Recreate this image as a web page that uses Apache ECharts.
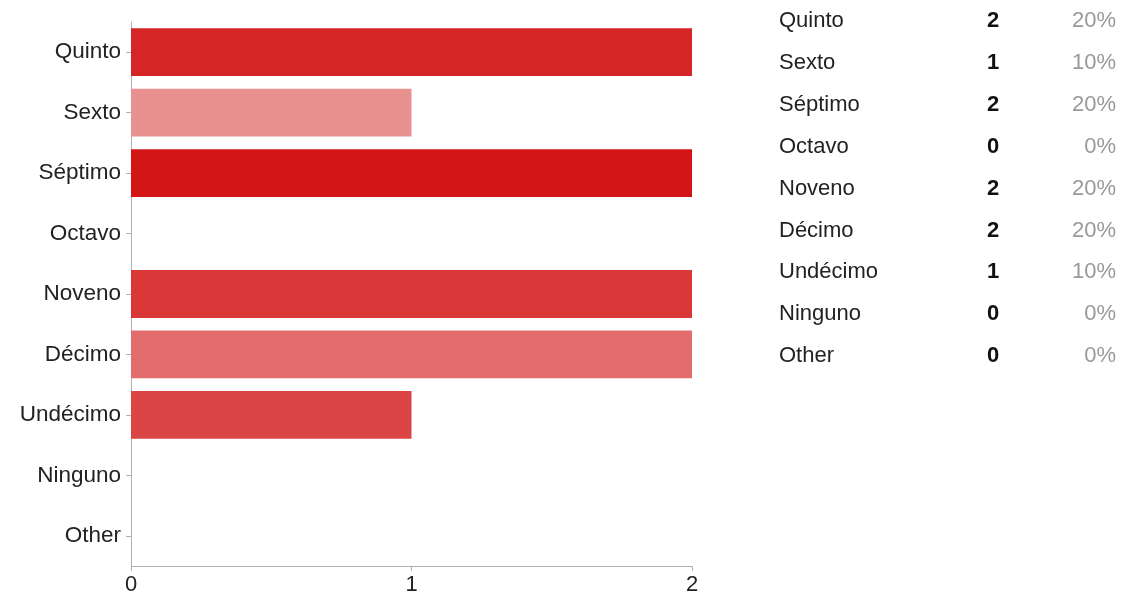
<!DOCTYPE html>
<html>
<head>
<meta charset="utf-8">
<script src="https://cdn.jsdelivr.net/npm/echarts@6/dist/echarts.min.js"></script>
<style>
  html, body { margin: 0; padding: 0; background: #fff; }
  #chart { width: 1129px; height: 597px; }
</style>
</head>
<body>
<div id="chart"></div>
<script>
const categories = ['Quinto', 'Sexto', 'Séptimo', 'Octavo', 'Noveno', 'Décimo', 'Undécimo', 'Ninguno', 'Other'];
const counts = [2, 1, 2, 0, 2, 2, 1, 0, 0];
const barColors = ['#d52527', '#e99191', '#d31515', '#d9d9d9', '#d93738', '#e36d6d', '#dc4546', '#d9d9d9', '#d9d9d9'];
const xTicks = [0, 1, 2];

const FONT = '"Liberation Sans", Arial, sans-serif';
const total = counts.reduce((a, b) => a + b, 0);

const myChart = echarts.init(document.getElementById('chart'));

// summary table on the right
const rowTop = 21, rowGap = 41.9;
const tableItems = [];
categories.forEach((name, i) => {
  const y = rowTop + i * rowGap;
  tableItems.push({
    type: 'text', x: 779, y: y,
    style: { text: name, font: '22px ' + FONT, fill: '#222', verticalAlign: 'middle' }
  });
  tableItems.push({
    type: 'text', x: 993, y: y,
    style: { text: String(counts[i]), font: 'bold 22px ' + FONT, fill: '#111', align: 'center', verticalAlign: 'middle' }
  });
  tableItems.push({
    type: 'text', x: 1116, y: y,
    style: { text: Math.round(counts[i] / total * 100) + '%', font: '22px ' + FONT, fill: '#999', align: 'right', verticalAlign: 'middle' }
  });
});

const option = {
  animation: false,
  grid: { left: 131, right: 437, top: 22, bottom: 31 },
  xAxis: {
    type: 'value',
    min: xTicks[0],
    max: xTicks[xTicks.length - 1],
    interval: 1,
    axisLine: { show: true, lineStyle: { color: '#b0b0b0', width: 1 } },
    axisTick: { show: true, length: 5, lineStyle: { color: '#b0b0b0' } },
    axisLabel: { color: '#222', fontSize: 22, fontFamily: FONT, margin: 8 },
    splitLine: { show: false }
  },
  yAxis: {
    type: 'category',
    data: categories,
    inverse: true,
    axisLine: { show: true, lineStyle: { color: '#b0b0b0', width: 1 } },
    axisTick: { show: true, alignWithLabel: true, length: 5, lineStyle: { color: '#b0b0b0' } },
    axisLabel: { color: '#222', fontSize: 22.5, fontFamily: FONT, margin: 10 }
  },
  series: [{
    type: 'bar',
    barWidth: '79%',
    data: counts.map((v, i) => ({ value: v, itemStyle: { color: barColors[i] } }))
  }],
  graphic: tableItems
};

myChart.setOption(option);
</script>
</body>
</html>
